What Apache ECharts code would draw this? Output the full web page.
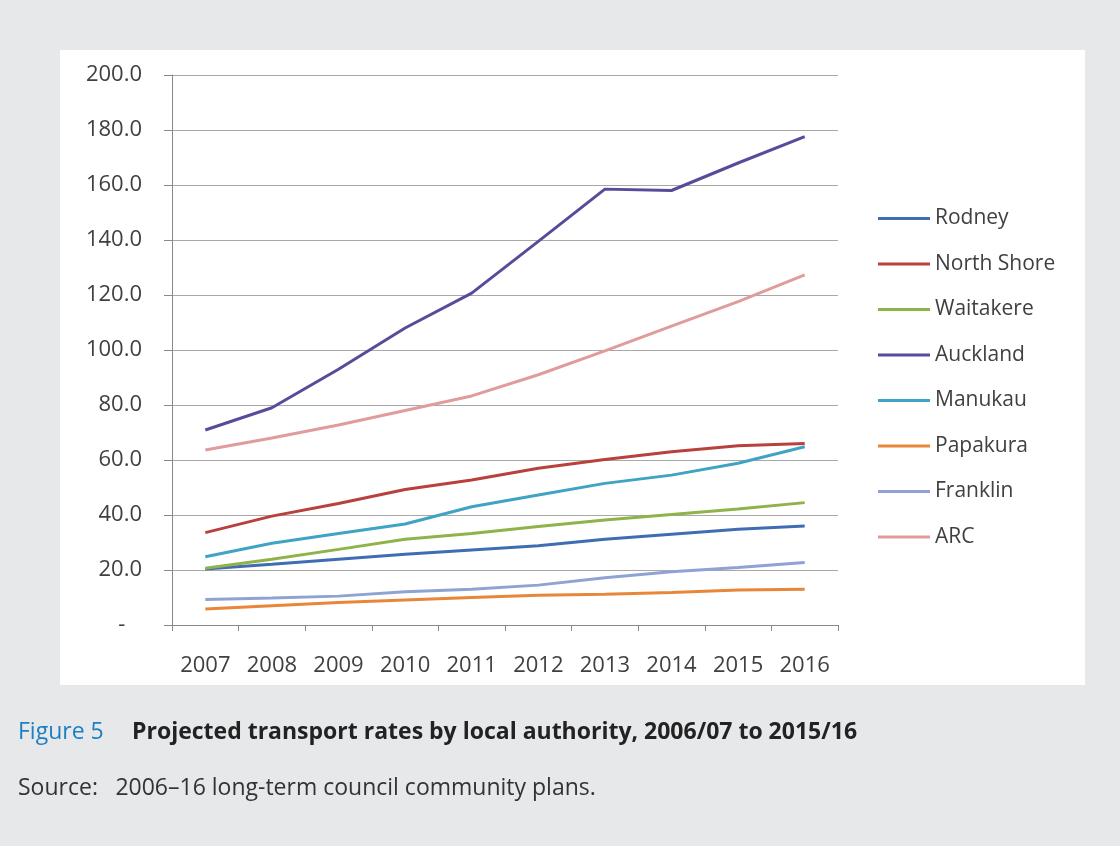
<!DOCTYPE html>
<html>
<head>
<meta charset="utf-8">
<script src="https://cdn.jsdelivr.net/npm/echarts@6/dist/echarts.min.js"></script>
<style>
html,body{margin:0;padding:0;background:#e7e8ea;}
#c{width:1120px;height:846px;}
</style>
</head>
<body>
<div id="c"></div>
<script>
var years = ['2007','2008','2009','2010','2011','2012','2013','2014','2015','2016'];
var seriesNames = ['Rodney','North Shore','Waitakere','Auckland','Manukau','Papakura','Franklin','ARC'];
var rodney     = [20.4, 22.1, 23.9, 25.7, 27.3, 28.8, 31.2, 33.0, 34.8, 36.0];
var northShore = [33.6, 39.6, 44.2, 49.3, 52.7, 57.0, 60.2, 63.0, 65.2, 66.0];
var waitakere  = [20.6, 23.9, 27.5, 31.2, 33.3, 35.8, 38.2, 40.2, 42.2, 44.5];
var auckland   = [70.9, 79.0, 93.0, 108.0, 120.7, 139.5, 158.5, 158.0, 168.0, 177.6];
var manukau    = [24.8, 29.7, 33.3, 36.7, 43.0, 47.3, 51.5, 54.5, 58.8, 64.8];
var papakura   = [5.8, 7.0, 8.2, 9.1, 10.0, 10.8, 11.2, 11.8, 12.7, 13.0];
var franklin   = [9.3, 9.8, 10.5, 12.1, 13.0, 14.5, 17.2, 19.4, 20.9, 22.7];
var arc        = [63.6, 68.0, 72.7, 78.0, 83.3, 91.0, 99.7, 108.7, 117.6, 127.3];
var yTicks = [0, 20, 40, 60, 80, 100, 120, 140, 160, 180, 200];
var captionFigure = 'Figure 5';
var captionTitle = 'Projected transport rates by local authority, 2006/07 to 2015/16';
var captionSource = 'Source:\u2002 2006\u201316 long-term council community plans.';

var allData = [rodney, northShore, waitakere, auckland, manukau, papakura, franklin, arc];
var colors = ['#3f6db3', '#b8403d', '#8fb34a', '#5b4a9a', '#3fa3c4', '#e8873a', '#8fa3d2', '#e09c9c'];

var chart = echarts.init(document.getElementById('c'));
var series = seriesNames.map(function (n, i) {
  return {
    name: n,
    type: 'line',
    data: allData[i],
    symbol: 'none',
    smooth: false,
    z: 3,
    lineStyle: { width: 3, color: colors[i] },
    itemStyle: { color: colors[i] }
  };
});

chart.setOption({
  backgroundColor: '#e7e8ea',
  animation: false,
  graphic: [
    { type: 'rect', left: 60, top: 50, shape: { width: 1025, height: 635 }, style: { fill: '#ffffff' }, z: -10 },
    { type: 'text', left: 18, top: 721, style: { text: captionFigure, font: '500 23px "Open Sans"', fill: '#1b7fc2' } },
    { type: 'text', left: 132, top: 721, style: { text: captionTitle, font: 'bold 23px "Open Sans"', fill: '#222222' } },
    { type: 'text', left: 18, top: 777, style: { text: captionSource, font: '23px "Open Sans"', fill: '#333333' } }
  ],
  grid: { left: 172, right: 282, top: 75, bottom: 221, containLabel: false },
  legend: {
    orient: 'vertical',
    left: 873,
    top: 203,
    icon: 'rect',
    itemWidth: 52,
    itemHeight: 3,
    itemGap: 24.5,
    textStyle: { fontFamily: 'Open Sans', fontSize: 21, color: '#404040', lineHeight: 20 },
    data: seriesNames
  },
  xAxis: {
    type: 'category',
    data: years,
    boundaryGap: true,
    axisLine: { lineStyle: { color: '#888888', width: 1 } },
    axisTick: { show: true, length: 6, lineStyle: { color: '#888888' } },
    axisLabel: { fontFamily: 'Open Sans', fontSize: 22, color: '#404040', margin: 30 }
  },
  yAxis: {
    type: 'value',
    min: 0,
    max: 200,
    interval: 20,
    axisLine: { show: true, lineStyle: { color: '#888888', width: 1 } },
    axisTick: { show: true, length: 8, inside: false, lineStyle: { color: '#888888' } },
    splitLine: { show: true, lineStyle: { color: '#a8a8a8', width: 1 } },
    axisLabel: {
      fontFamily: 'Open Sans', fontSize: 22, color: '#404040', margin: 30,
      formatter: function (v) {
        if (yTicks.indexOf(v) < 0) return '';
        return v === 0 ? '-\u2002\u00a0' : v.toFixed(1);
      }
    }
  },
  series: series
});
</script>
</body>
</html>
